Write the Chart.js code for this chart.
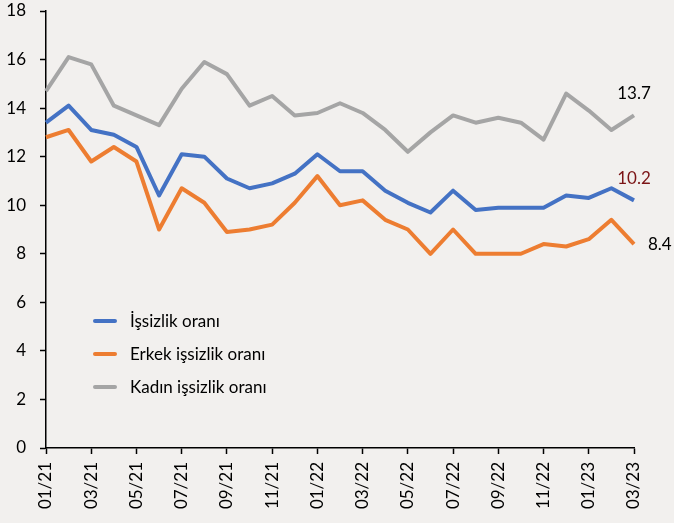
<!DOCTYPE html>
<html lang="tr">
<head>
<meta charset="utf-8">
<title>İşsizlik oranları</title>
<script src="https://cdn.jsdelivr.net/npm/chart.js@4.4.1/dist/chart.umd.min.js"></script>
<style>
  html, body { margin: 0; padding: 0; background: #f2f0ee; }
  #kutu { position: relative; width: 674px; height: 523px; }
  #grafik { display: block; }
  #lejant { position: absolute; left: 93px; top: 304px; font-family: Lato, 'Open Sans', sans-serif; font-size: 17px; color: #000; }
  #lejant div { height: 33px; line-height: 24px; display: flex; align-items: center; }
  #lejant span.cizgi { display: inline-block; width: 24px; height: 4px; border-radius: 2px; margin-right: 13px; }
</style>
</head>
<body>
<div id="kutu">
  <canvas id="grafik" width="674" height="523"></canvas>
  <div id="lejant"></div>
</div>
<script>
// aylar (01/21 - 03/23)
const aylar = ['01/21','02/21','03/21','04/21','05/21','06/21','07/21','08/21','09/21','10/21','11/21','12/21',
  '01/22','02/22','03/22','04/22','05/22','06/22','07/22','08/22','09/22','10/22','11/22','12/22',
  '01/23','02/23','03/23'];

// seriler
const issizlik = [13.4, 14.1, 13.1, 12.9, 12.4, 10.4, 12.1, 12.0, 11.1, 10.7, 10.9, 11.3,
  12.1, 11.4, 11.4, 10.6, 10.1, 9.7, 10.6, 9.8, 9.9, 9.9, 9.9, 10.4, 10.3, 10.7, 10.2];
const erkek = [12.8, 13.1, 11.8, 12.4, 11.8, 9.0, 10.7, 10.1, 8.9, 9.0, 9.2, 10.1,
  11.2, 10.0, 10.2, 9.4, 9.0, 8.0, 9.0, 8.0, 8.0, 8.0, 8.4, 8.3, 8.6, 9.4, 8.4];
const kadin = [14.7, 16.1, 15.8, 14.1, 13.7, 13.3, 14.8, 15.9, 15.4, 14.1, 14.5, 13.7,
  13.8, 14.2, 13.8, 13.1, 12.2, 13.0, 13.7, 13.4, 13.6, 13.4, 12.7, 14.6, 13.9, 13.1, 13.7];

const yTikleri = [0, 2, 4, 6, 8, 10, 12, 14, 16, 18];

const fontAdi = "Lato, 'Open Sans', sans-serif";

const seriler = [
  { label: 'İşsizlik oranı', data: issizlik, renk: '#4472c4', etiketRenk: '#7b1416', yer: 'ust' },
  { label: 'Erkek işsizlik oranı', data: erkek, renk: '#ed7d31', etiketRenk: '#000', yer: 'sag' },
  { label: 'Kadın işsizlik oranı', data: kadin, renk: '#a5a5a5', etiketRenk: '#000', yer: 'ust' }
];

// son değer etiketleri
const sonEtiket = {
  id: 'sonEtiket',
  afterDatasetsDraw(chart) {
    const ctx = chart.ctx;
    ctx.save();
    ctx.font = '17px ' + fontAdi;
    ctx.textBaseline = 'middle';
    seriler.forEach((s, i) => {
      const meta = chart.getDatasetMeta(i);
      const n = meta.data.length - 1;
      const p = meta.data[n];
      const txt = s.data[n].toFixed(1);
      ctx.fillStyle = s.etiketRenk;
      if (s.yer === 'sag') {
        ctx.textAlign = 'left';
        ctx.fillText(txt, p.x + 14, p.y);
      } else {
        ctx.textAlign = 'center';
        ctx.fillText(txt, p.x, p.y - 22);
      }
    });
    ctx.restore();
  }
};

const grafik = new Chart(document.getElementById('grafik'), {
  type: 'line',
  data: {
    labels: aylar,
    datasets: seriler.map(s => ({
      label: s.label,
      data: s.data,
      borderColor: s.renk,
      backgroundColor: s.renk,
      borderWidth: 4,
      pointRadius: 0,
      tension: 0,
      borderJoinStyle: 'round'
    }))
  },
  options: {
    responsive: false,
    animation: false,
    devicePixelRatio: 1,
    layout: { padding: { top: 11, right: 40, left: 0, bottom: 0 } },
    plugins: { legend: { display: false }, tooltip: { enabled: false } },
    scales: {
      x: {
        offset: false,
        border: { display: true, color: '#000', width: 1.5 },
        grid: {
          drawOnChartArea: false,
          drawTicks: true,
          tickLength: 6,
          tickWidth: 1.5,
          tickColor: c => (c.index % 2 === 0 ? '#000' : 'rgba(0,0,0,0)')
        },
        ticks: {
          autoSkip: false,
          maxRotation: 90,
          minRotation: 90,
          padding: 8,
          color: '#000',
          font: { family: fontAdi, size: 17 },
          callback: (v, i) => (i % 2 === 0 ? aylar[i] : '')
        },
        afterFit: sc => { sc.height = 75; sc.paddingLeft = 0; sc.paddingRight = 0; }
      },
      y: {
        min: 0,
        max: 18,
        border: { display: true, color: '#000', width: 1.5 },
        grid: { drawOnChartArea: false, drawTicks: true, tickLength: 6, tickWidth: 1.5, tickColor: '#000' },
        afterBuildTicks: sc => { sc.ticks = yTikleri.map(v => ({ value: v })); },
        ticks: {
          padding: 14,
          color: '#000',
          font: { family: fontAdi, size: 17 }
        },
        afterFit: sc => { sc.width = 46; sc.paddingTop = 0; sc.paddingBottom = 0; }
      }
    }
  },
  plugins: [sonEtiket]
});

// lejant
const lejant = document.getElementById('lejant');
seriler.forEach(s => {
  const d = document.createElement('div');
  d.innerHTML = '<span class="cizgi" style="background:' + s.renk + '"></span>' + s.label;
  lejant.appendChild(d);
});
</script>
</body>
</html>
